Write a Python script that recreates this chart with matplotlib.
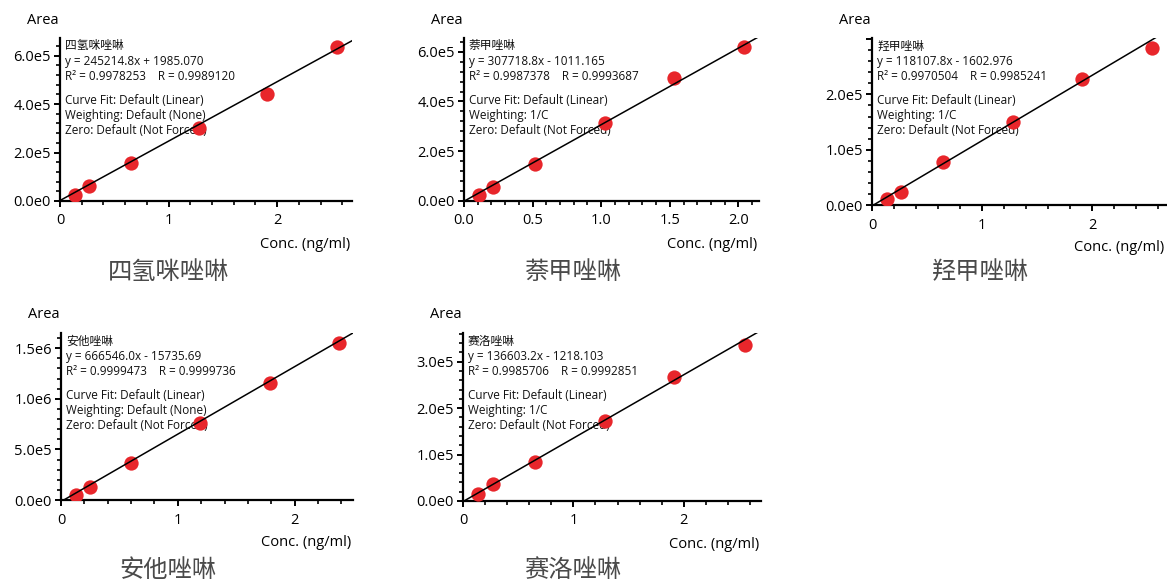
import math
import matplotlib
matplotlib.use('Agg')
import matplotlib.pyplot as plt
from matplotlib.ticker import MultipleLocator, FuncFormatter
import numpy as np

plt.rcParams['font.family'] = ['Open Sans', 'Noto Sans CJK SC', 'DejaVu Sans']

W, H = 1167, 581

# 数据
names = ['四氢咪唑啉', '萘甲唑啉', '羟甲唑啉', '安他唑啉', '赛洛唑啉']
conc = [
    [0.138, 0.267, 0.65, 1.28, 1.91, 2.55],
    [0.11, 0.21, 0.52, 1.03, 1.53, 2.04],
    [0.136, 0.266, 0.643, 1.278, 1.907, 2.544],
    [0.125, 0.245, 0.60, 1.19, 1.79, 2.38],
    [0.135, 0.27, 0.648, 1.288, 1.915, 2.555],
]
area = [
    [0.25e5, 0.63e5, 1.58e5, 3.03e5, 4.41e5, 6.35e5],
    [0.25e5, 0.55e5, 1.49e5, 3.13e5, 4.94e5, 6.17e5],
    [0.11e5, 0.23e5, 0.77e5, 1.50e5, 2.27e5, 2.84e5],
    [0.05e6, 0.128e6, 0.361e6, 0.76e6, 1.154e6, 1.549e6],
    [0.15e5, 0.36e5, 0.85e5, 1.73e5, 2.68e5, 3.37e5],
]
slope = [245214.8, 307718.8, 118107.8, 666546.0, 136603.2]
icept = [1985.070, -1011.165, -1602.976, -15735.69, -1218.103]
eq_txt = ['y = 245214.8x + 1985.070', 'y = 307718.8x - 1011.165',
          'y = 118107.8x - 1602.976', 'y = 666546.0x - 15735.69',
          'y = 136603.2x - 1218.103']
r2_txt = ['R² = 0.9978253    R = 0.9989120', 'R² = 0.9987378    R = 0.9993687',
          'R² = 0.9970504    R = 0.9985241', 'R² = 0.9999473    R = 0.9999736',
          'R² = 0.9985706    R = 0.9992851']
weight_txt = ['Weighting: Default (None)', 'Weighting: 1/C', 'Weighting: 1/C',
              'Weighting: Default (None)', 'Weighting: 1/C']

# 布局 (像素: left, right, top, bottom)
boxes = [(60, 352, 38, 201), (464, 759, 38, 201), (872, 1166, 38, 205),
         (61, 353, 333, 500), (463, 761, 333, 501)]
xmax = [2.69, 2.15, 2.67, 2.50, 2.70]
ymax = [6.73e5, 6.55e5, 3.02e5, 1.65e6, 3.62e5]
xmaj = [1, 0.5, 1, 1, 1]
xmin_ = [0.2, 0.1, 0.2, 0.2, 0.2]
ymaj = [2e5, 2e5, 1e5, 5e5, 1e5]
ymin_ = [0.4e5, 0.4e5, 0.2e5, 1e5, 0.2e5]
title_x = [168, 573, 980, 168, 573]
title_y = [272, 272, 272, 570, 570]


def make_sci(top):
    def sci(v, pos):
        if v > top * 0.98:
            return ''
        if v == 0:
            return '0.0e0'
        e = int(math.floor(math.log10(abs(v)) + 1e-9))
        return '%.1fe%d' % (v / 10**e, e)
    return sci


fig = plt.figure(figsize=(W / 100, H / 100), dpi=100)

for i in range(5):
    l, r, t, b = boxes[i]
    ax = fig.add_axes([l / W, 1 - b / H, (r - l) / W, (b - t) / H])
    ax.set_xlim(0, xmax[i])
    ax.set_ylim(0, ymax[i])
    for s in ['top', 'right']:
        ax.spines[s].set_visible(False)
    for s in ['left', 'bottom']:
        ax.spines[s].set_linewidth(1.6)
    ax.xaxis.set_major_locator(MultipleLocator(xmaj[i]))
    ax.xaxis.set_minor_locator(MultipleLocator(xmin_[i]))
    ax.yaxis.set_major_locator(MultipleLocator(ymaj[i]))
    ax.yaxis.set_minor_locator(MultipleLocator(ymin_[i]))
    ax.yaxis.set_major_formatter(FuncFormatter(make_sci(ymax[i])))
    if xmaj[i] == 0.5:
        ax.xaxis.set_major_formatter(FuncFormatter(lambda v, p: '%.1f' % v))
    else:
        ax.xaxis.set_major_formatter(FuncFormatter(lambda v, p: '%d' % round(v)))
    ax.tick_params(which='major', direction='out', length=4.5, width=1.4,
                   labelsize=10.5)
    ax.tick_params(axis='y', which='major', pad=2)
    ax.tick_params(axis='x', which='major', pad=4.5)
    ax.tick_params(which='minor', direction='out', length=3, width=1.2)
    ax.patch.set_alpha(0)

    ax.plot(conc[i], area[i], 'o', color='#e8262b', ms=10.3, mec='none', zorder=3)
    xx = np.array([0, xmax[i]])
    ax.plot(xx, slope[i] * xx + icept[i], color='black', lw=1.1, zorder=4)

    lines = [names[i], eq_txt[i], r2_txt[i], 'Curve Fit: Default (Linear)',
             weight_txt[i], 'Zero: Default (Not Forced)']
    offs = [8, 23.5, 38.5, 62.5, 77.5, 92.5]
    for txt, o in zip(lines, offs):
        ax.text(5 / (r - l), 1 - o / (b - t), txt, transform=ax.transAxes,
                fontsize=8.5, va='center', ha='left', color='#111111', zorder=1)

    fig.text((l - 1) / W, 1 - (t - 18) / H, 'Area', fontsize=10.5,
             ha='right', va='center')
    fig.text((r - 2) / W, 1 - (b + 43) / H, 'Conc. (ng/ml)', fontsize=10.5,
             ha='right', va='center')
    fig.text(title_x[i] / W, 1 - title_y[i] / H, names[i], fontsize=17.5,
             ha='center', va='center', color='#4a4a4a', fontweight='light',
             family=['Noto Sans CJK SC'])

fig.savefig('out.png', dpi=100)
